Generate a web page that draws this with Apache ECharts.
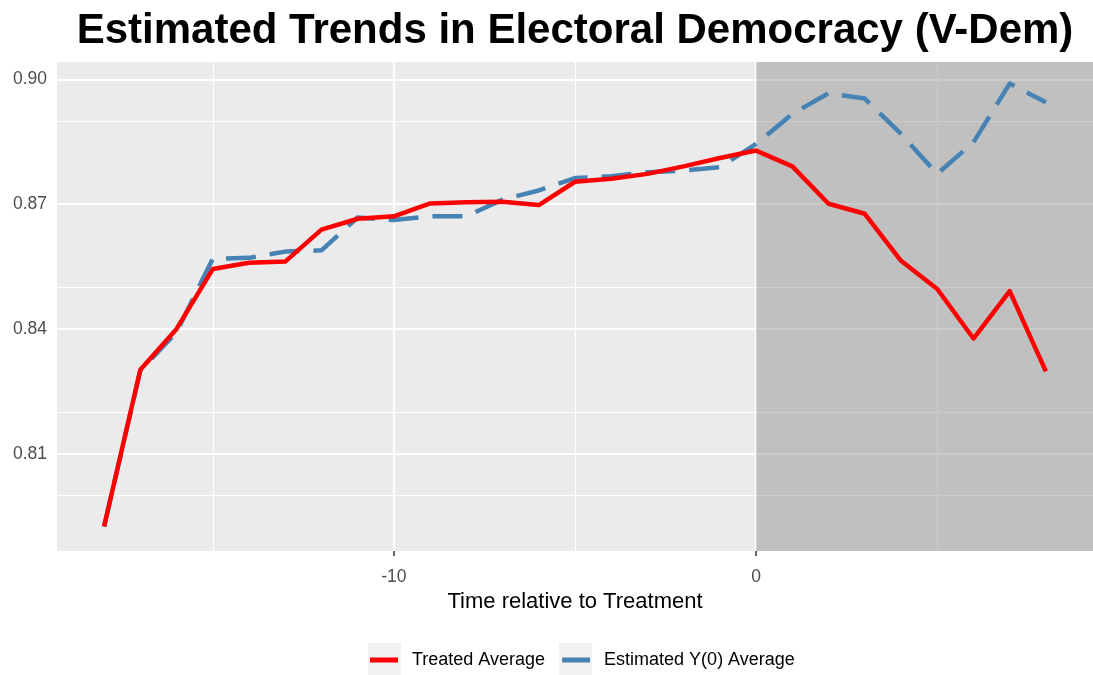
<!DOCTYPE html>
<html>
<head>
<meta charset="utf-8">
<title>Estimated Trends in Electoral Democracy (V-Dem)</title>
<script src="https://cdn.jsdelivr.net/npm/echarts@6/dist/echarts.min.js"></script>
<style>
  html, body { margin: 0; padding: 0; background: #ffffff; }
  #chart { width: 1093px; height: 675px; }
</style>
</head>
<body>
<div id="chart"></div>
<script>
// Time relative to treatment (years)
const timeAxis = [-18, -17, -16, -15, -14, -13, -12, -11, -10, -9, -8, -7, -6, -5, -4, -3, -2, -1, 0, 1, 2, 3, 4, 5, 6, 7, 8];

// Treated average of the electoral democracy index
const treatedAverage = [0.7925, 0.8302, 0.8400, 0.8544, 0.8559, 0.8562, 0.8639, 0.8665, 0.8671, 0.8702, 0.8705, 0.8706, 0.8698,
  0.8754, 0.8761, 0.8773, 0.8791, 0.8811, 0.8829, 0.8791, 0.8701, 0.8677, 0.8564, 0.8496, 0.8377, 0.8491, 0.8298];

// Estimated counterfactual Y(0) average
const estimatedY0 = [0.7925, 0.8300, 0.8392, 0.8569, 0.8571, 0.8586, 0.8589, 0.8668, 0.8662, 0.8671, 0.8671, 0.8711, 0.8733,
  0.8763, 0.8767, 0.8777, 0.8781, 0.8789, 0.8845, 0.8917, 0.8967, 0.8954, 0.8869, 0.8773, 0.8849, 0.8990, 0.8945];

// Axis ticks and gridlines
const xMajorTicks = [-10, 0];
const xMinorGrid = [-15, -5, 5];
const yMajorTicks = [0.81, 0.84, 0.87, 0.90];
const yMinorGrid = [0.795, 0.825, 0.855, 0.885];

// Axis extents (data range plus 5% padding)
const xMin = -19.3, xMax = 9.3;
const yMin = 0.7866, yMax = 0.9042;
const treatmentStart = 0;

const FONT = "'Liberation Sans', Arial, Helvetica, sans-serif";

const toPairs = (xs, ys) => xs.map((x, i) => [x, ys[i]]);

const gridLines = [];
xMajorTicks.forEach(v => gridLines.push({ xAxis: v, lineStyle: { width: 1.9 } }));
xMinorGrid.forEach(v => gridLines.push({ xAxis: v, lineStyle: { width: 1.1 } }));
yMajorTicks.forEach(v => gridLines.push({ yAxis: v, lineStyle: { width: 1.9 } }));
yMinorGrid.forEach(v => gridLines.push({ yAxis: v, lineStyle: { width: 1.1 } }));

const chart = echarts.init(document.getElementById('chart'), null, { renderer: 'canvas' });

const option = {
  animation: false,
  backgroundColor: '#ffffff',
  textStyle: { fontFamily: FONT },
  title: {
    text: 'Estimated Trends in Electoral Democracy (V-Dem)',
    left: 570,
    top: 5,
    textAlign: 'center',
    textStyle: { fontFamily: FONT, fontSize: 42, fontWeight: 'bold', color: '#000000' }
  },
  grid: {
    left: 57, right: 0, top: 62, bottom: 124,
    show: true, backgroundColor: '#EBEBEB', borderWidth: 0
  },
  xAxis: {
    type: 'value',
    min: xMin, max: xMax,
    name: 'Time relative to Treatment',
    nameLocation: 'middle',
    nameGap: 38,
    nameTextStyle: { fontFamily: FONT, fontSize: 22, color: '#000000' },
    axisLine: { show: false },
    axisTick: { show: true, length: 5, customValues: xMajorTicks, lineStyle: { color: '#333333', width: 1.5 } },
    axisLabel: { customValues: xMajorTicks, fontFamily: FONT, fontSize: 17.5, color: '#4D4D4D', margin: 17 },
    splitLine: { show: false }
  },
  yAxis: {
    type: 'value',
    min: yMin, max: yMax,
    axisLine: { show: false },
    axisTick: { show: true, length: 5, customValues: yMajorTicks, lineStyle: { color: '#333333', width: 1.5 } },
    axisLabel: {
      customValues: yMajorTicks, fontFamily: FONT, fontSize: 17.5, color: '#4D4D4D', margin: 10,
      formatter: v => v.toFixed(2)
    },
    splitLine: { show: false }
  },
  legend: {
    data: ['Treated Average', 'Estimated Y(0) Average'],
    left: 365,
    top: 646,
    icon: 'rect',
    itemWidth: 28,
    itemHeight: 5,
    itemGap: 17,
    textStyle: { fontFamily: FONT, fontSize: 18, color: '#000000', padding: [0, 0, 0, 9] }
  },
  graphic: [
    { type: 'rect', z: -1, shape: { x: 368, y: 643, width: 33, height: 32 }, style: { fill: '#F2F2F2' } },
    { type: 'rect', z: -1, shape: { x: 559, y: 643, width: 33, height: 32 }, style: { fill: '#F2F2F2' } }
  ],
  series: [
    {
      name: 'panelGrid',
      type: 'line',
      data: [],
      silent: true,
      z: 1,
      markLine: {
        silent: true,
        z: 1,
        symbol: ['none', 'none'],
        label: { show: false },
        lineStyle: { color: '#FFFFFF', type: 'solid' },
        emphasis: { disabled: true },
        data: gridLines
      }
    },
    {
      name: 'postTreatment',
      type: 'line',
      data: [],
      silent: true,
      z: 2,
      markArea: {
        silent: true,
        z: 2,
        itemStyle: { color: 'rgba(127,127,127,0.4)' },
        emphasis: { disabled: true },
        data: [[{ xAxis: treatmentStart }, { xAxis: xMax }]]
      }
    },
    {
      name: 'Treated Average',
      type: 'line',
      z: 4,
      data: toPairs(timeAxis, treatedAverage),
      showSymbol: false,
      symbol: 'none',
      color: '#FF0000',
      lineStyle: { color: '#FF0000', width: 4.5, join: 'round' }
    },
    {
      name: 'Estimated Y(0) Average',
      type: 'line',
      z: 3,
      data: toPairs(timeAxis, estimatedY0),
      showSymbol: false,
      symbol: 'none',
      color: '#4682B4',
      lineStyle: { color: '#4682B4', width: 4.5, type: [30, 14], join: 'round' }
    }
  ]
};

chart.setOption(option);
</script>
</body>
</html>
